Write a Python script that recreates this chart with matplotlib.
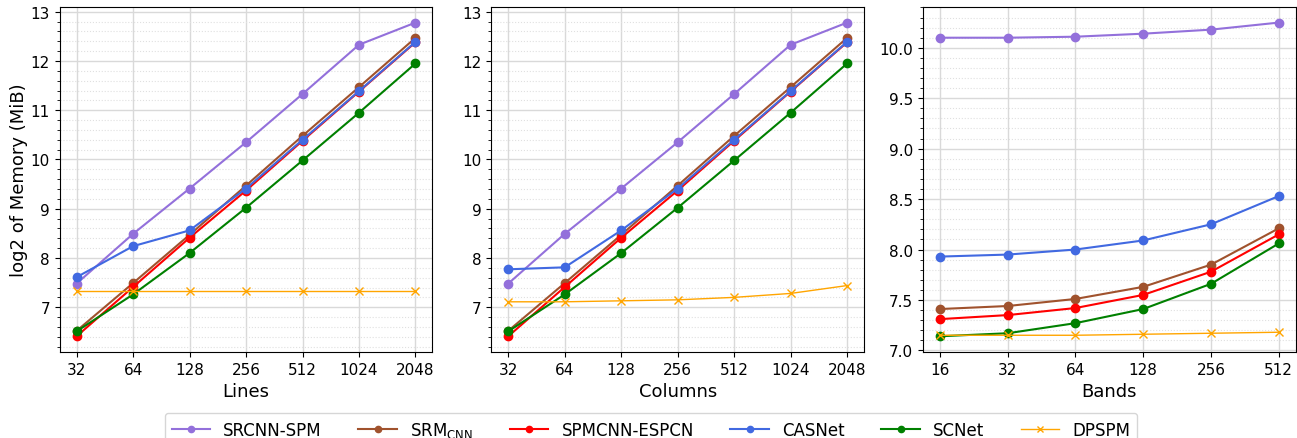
import matplotlib
matplotlib.use('Agg')
import matplotlib.pyplot as plt
from matplotlib.ticker import AutoMinorLocator, NullLocator, FixedLocator, FixedFormatter

# x values of the three panels
lines = [32, 64, 128, 256, 512, 1024, 2048]
columns = [32, 64, 128, 256, 512, 1024, 2048]
bands = [16, 32, 64, 128, 256, 512]

methods = ['SRCNN-SPM', r'SRM$_{\mathrm{CNN}}$', 'SPMCNN-ESPCN', 'CASNet', 'SCNet', 'DPSPM']
colors = ['mediumpurple', 'sienna', 'red', 'royalblue', 'green', 'orange']

# log2 of memory (MiB), vs Lines
lines_srcnn = [7.48, 8.49, 9.41, 10.35, 11.33, 12.33, 12.78]
lines_srm = [6.52, 7.49, 8.47, 9.47, 10.48, 11.47, 12.47]
lines_espcn = [6.41, 7.41, 8.41, 9.37, 10.38, 11.38, 12.38]
lines_casnet = [7.61, 8.24, 8.56, 9.41, 10.40, 11.39, 12.39]
lines_scnet = [6.51, 7.26, 8.10, 9.02, 9.98, 10.95, 11.95]
lines_dpspm = [7.32, 7.32, 7.32, 7.32, 7.32, 7.32, 7.32]

# vs Columns
cols_srcnn = [7.48, 8.49, 9.41, 10.35, 11.33, 12.33, 12.78]
cols_srm = [6.52, 7.49, 8.47, 9.47, 10.48, 11.47, 12.47]
cols_espcn = [6.41, 7.41, 8.41, 9.37, 10.38, 11.38, 12.38]
cols_casnet = [7.77, 7.81, 8.56, 9.41, 10.40, 11.39, 12.39]
cols_scnet = [6.51, 7.26, 8.10, 9.02, 9.98, 10.95, 11.95]
cols_dpspm = [7.11, 7.11, 7.13, 7.15, 7.20, 7.28, 7.44]

# vs Bands
bands_srcnn = [10.10, 10.10, 10.11, 10.14, 10.18, 10.25]
bands_srm = [7.41, 7.44, 7.51, 7.63, 7.85, 8.21]
bands_espcn = [7.31, 7.35, 7.42, 7.55, 7.78, 8.15]
bands_casnet = [7.93, 7.95, 8.00, 8.09, 8.25, 8.53]
bands_scnet = [7.14, 7.17, 7.27, 7.41, 7.66, 8.06]
bands_dpspm = [7.15, 7.15, 7.15, 7.16, 7.17, 7.18]

panels = [
    (lines, [lines_srcnn, lines_srm, lines_espcn, lines_casnet, lines_scnet, lines_dpspm], 'Lines'),
    (columns, [cols_srcnn, cols_srm, cols_espcn, cols_casnet, cols_scnet, cols_dpspm], 'Columns'),
    (bands, [bands_srcnn, bands_srm, bands_espcn, bands_casnet, bands_scnet, bands_dpspm], 'Bands'),
]

fig, axes = plt.subplots(1, 3, figsize=(12.97, 4.39), dpi=100)
fig.subplots_adjust(left=0.046, right=0.999, bottom=0.196, top=0.982, wspace=0.158)

for ax, (xs, series, xlabel) in zip(axes, panels):
    for ys, name, c in zip(series, methods, colors):
        if name == 'DPSPM':
            ax.plot(xs, ys, marker='x', color=c, linewidth=1, markersize=6, label=name)
        else:
            ax.plot(xs, ys, marker='o', color=c, linewidth=1.5, markersize=6, label=name)
    ax.set_xscale('log', base=2)
    ax.xaxis.set_major_locator(FixedLocator(xs))
    ax.xaxis.set_major_formatter(FixedFormatter([str(v) for v in xs]))
    ax.xaxis.set_minor_locator(NullLocator())
    ax.yaxis.set_minor_locator(AutoMinorLocator())
    ax.grid(which='major', color='#d9d9d9', linewidth=1)
    ax.grid(which='minor', axis='y', color='#e0e0e0', linestyle=':', linewidth=0.8)
    ax.set_axisbelow(True)
    ax.tick_params(labelsize=11)
    ax.set_xlabel(xlabel, fontsize=13)

axes[0].set_ylabel('log2 of Memory (MiB)', fontsize=13, labelpad=2)

handles, labels = axes[0].get_legend_handles_labels()
fig.legend(handles, labels, loc='upper center', bbox_to_anchor=(0.502, 0.057),
           ncol=6, fontsize=12, frameon=True, handlelength=2.3, columnspacing=2.2,
           borderaxespad=0, markerscale=0.75)

fig.savefig('out.png', dpi=100)
